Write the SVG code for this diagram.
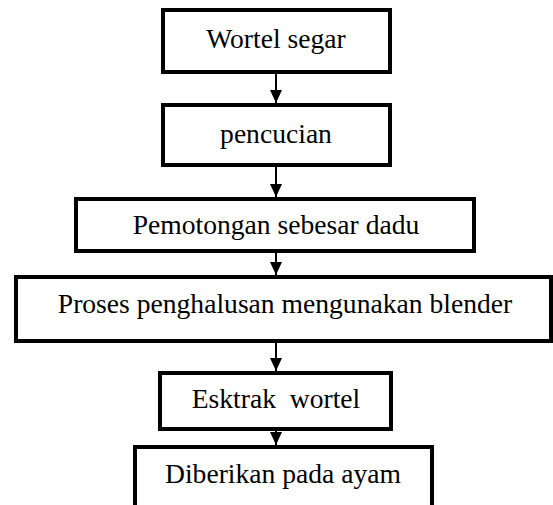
<svg xmlns="http://www.w3.org/2000/svg" width="553" height="505" viewBox="0 0 553 505">
<style>
.box{fill:#fff;stroke:#000;stroke-width:4}
.lbl{font-family:"Liberation Serif","Times New Roman",serif;font-size:27.6px;fill:#000;text-anchor:middle;white-space:pre}
.conn{stroke:#000;stroke-width:2;fill:none;marker-end:url(#ah)}
</style>
<defs>
<marker id="ah" markerUnits="userSpaceOnUse" markerWidth="13" markerHeight="12" refX="13" refY="6" orient="auto">
<path d="M0,0 L13,6 L0,12 Z" fill="#000"/>
</marker>
</defs>
<rect width="553" height="505" fill="#fff"/>
<g id="connectors">
<line class="conn" x1="276" y1="74" x2="276" y2="103"/>
<line class="conn" x1="276" y1="167" x2="276" y2="197"/>
<line class="conn" x1="276" y1="253" x2="276" y2="275"/>
<line class="conn" x1="276" y1="343" x2="276" y2="371"/>
<line class="conn" x1="276" y1="431" x2="276" y2="445"/>
</g>
<g id="n1">
<rect class="box" x="163" y="10" width="227" height="62"/>
<text class="lbl" x="276" y="48">Wortel segar</text>
</g>
<g id="n2">
<rect class="box" x="163" y="105" width="227" height="60"/>
<text class="lbl" x="276" y="143">pencucian</text>
</g>
<g id="n3">
<rect class="box" x="76" y="199" width="398" height="52"/>
<text class="lbl" x="276" y="234">Pemotongan sebesar dadu</text>
</g>
<g id="n4">
<rect class="box" x="16" y="277" width="535" height="64"/>
<text class="lbl" x="285" y="313">Proses penghalusan mengunakan blender</text>
</g>
<g id="n5">
<rect class="box" x="160" y="373" width="231" height="56"/>
<text class="lbl" x="276" y="408" xml:space="preserve">Esktrak  wortel</text>
</g>
<g id="n6">
<path class="box" d="M135,510 L135,447 L432,447 L432,510"/>
<text class="lbl" x="283" y="483">Diberikan pada ayam</text>
</g>
</svg>
